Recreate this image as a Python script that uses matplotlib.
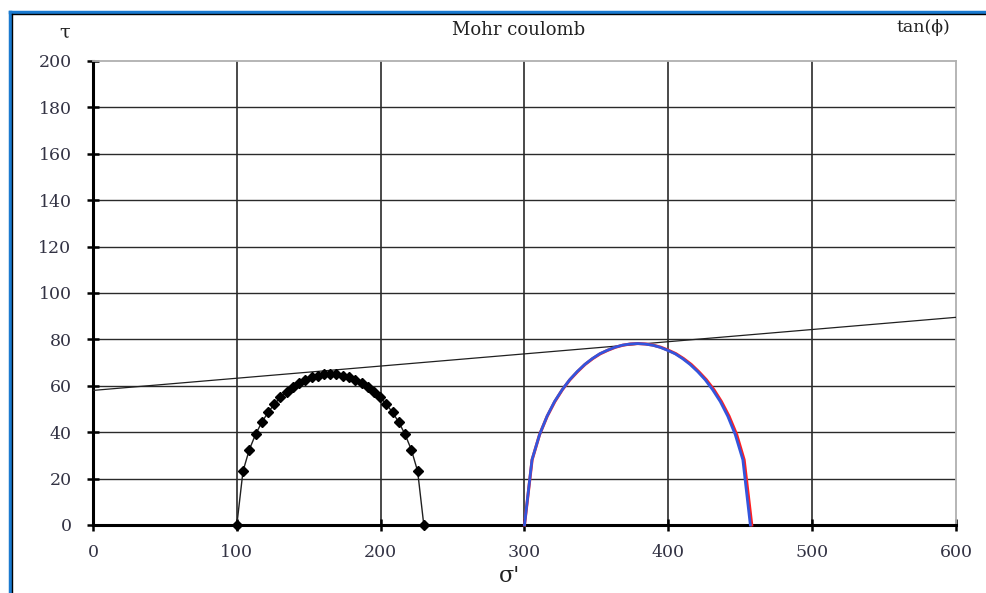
import matplotlib
matplotlib.use("Agg")
from matplotlib import pyplot as plt
from matplotlib.lines import Line2D

plt.rcParams['font.family'] = ['DejaVu Serif']

# Mohr circle 1 (diamond markers)
sig1 = [100, 104.3, 108.7, 113, 117.3, 121.7, 126, 130.3, 134.7, 139, 143.3,
        147.7, 152, 156.3, 160.7, 165, 169.3, 173.7, 178, 182.3, 186.7, 191,
        195.3, 199.7, 204, 208.3, 212.7, 217, 221.3, 225.7, 230]
tau1 = [0, 23.2, 32.5, 39.0, 44.2, 48.5, 52.0, 55.0, 57.5, 59.6, 61.3, 62.7,
        63.7, 64.4, 64.9, 65.0, 64.9, 64.4, 63.7, 62.7, 61.3, 59.6, 57.5, 55.0,
        52.0, 48.5, 44.2, 39.0, 32.5, 23.2, 0]

# Mohr circle 2 (red + blue lines)
tau2 = [0, 28.1, 39.0, 46.9, 53.2, 58.3, 62.6, 66.1, 69.2, 71.7, 73.8, 75.3,
        76.6, 77.5, 78.0, 78.2, 78.0, 77.5, 76.6, 75.3, 73.8, 71.7, 69.2, 66.1,
        62.6, 58.3, 53.2, 46.9, 39.0, 28.1, 0]
sig2_red = [300, 305.3, 310.5, 315.8, 321.1, 326.3, 331.6, 336.9, 342.1, 347.4,
            352.7, 357.9, 363.2, 368.5, 373.7, 379, 384.3, 389.5, 394.8, 400.1,
            405.3, 410.6, 415.9, 421.1, 426.4, 431.7, 436.9, 442.2, 447.5, 452.7, 458]
sig2_blue = [300, 305.2, 310.5, 315.7, 320.9, 326.2, 331.4, 336.6, 341.9, 347.1,
             352.3, 357.6, 362.8, 368, 373.3, 378.5, 383.7, 389, 394.2, 399.4,
             404.7, 409.9, 415.1, 420.4, 425.6, 430.8, 436.1, 441.3, 446.5, 451.8, 457]

# failure envelope
env_sig = [0, 600]
env_tau = [58, 89.5]

xticks = [0, 100, 200, 300, 400, 500, 600]
yticks = [0, 20, 40, 60, 80, 100, 120, 140, 160, 180, 200]

fig = plt.figure(figsize=(9.87, 5.93), dpi=100)
ax = fig.add_axes([0.0942, 0.1147, 0.8744, 0.7825])

ax.set_xlim(0, 600)
ax.set_ylim(0, 200)
ax.set_xticks(xticks)
ax.set_yticks(yticks)

# grid
for x in xticks[1:-1]:
    ax.axvline(x, color='#3a3a3a', lw=1.3, zorder=1)
for y in yticks[1:-1]:
    ax.axhline(y, color='#2a2a2a', lw=1.0, zorder=1)

ax.plot(env_sig, env_tau, color='#202020', lw=0.9, zorder=3)
ax.plot(sig1, tau1, color='#202020', lw=1.0, marker='D', ms=5,
        mfc='black', mec='black', zorder=4, clip_on=False)
ax.plot(sig2_red, tau2, color='#ff2020', lw=2.2, zorder=4, clip_on=False)
ax.plot(sig2_blue, tau2, color='#3355dd', lw=2.0, zorder=5, clip_on=False)

for s in ['left', 'bottom']:
    ax.spines[s].set_color('black')
    ax.spines[s].set_linewidth(2.2)
for s in ['top', 'right']:
    ax.spines[s].set_color('#b0b0b0')
    ax.spines[s].set_linewidth(1.3)

ax.tick_params(direction='inout', length=9, width=1.8, color='black',
               labelsize=12.5, labelcolor='#333344')
ax.tick_params(axis='y', pad=11)
ax.tick_params(axis='x', pad=9)

fig.text(519 / 987, 1 - 30 / 593, 'Mohr coulomb', ha='center', va='center',
         fontsize=13, color='#222222')
fig.text(923 / 987, 1 - 27 / 593, 'tan(ϕ)', ha='center', va='center',
         fontsize=12.5, color='#222222')
fig.text(65 / 987, 1 - 33 / 593, 'τ', ha='center', va='center',
         fontsize=14, color='#222222')
fig.text(510 / 987, 1 - 576 / 593, "σ'", ha='center', va='center',
         fontsize=16, color='#222222')

# outer frame (blue with black inner line), top and left sides
fig.add_artist(Line2D([9.5 / 987, 9.5 / 987], [0, 1 - 11.5 / 593],
                      transform=fig.transFigure, color='#1a7ad0', lw=2.5))
fig.add_artist(Line2D([9.5 / 987, 1], [1 - 11.5 / 593, 1 - 11.5 / 593],
                      transform=fig.transFigure, color='#1a7ad0', lw=2.5))
fig.add_artist(Line2D([12.5 / 987, 12.5 / 987], [0, 1 - 14 / 593],
                      transform=fig.transFigure, color='black', lw=1.0))
fig.add_artist(Line2D([12.5 / 987, 1], [1 - 14 / 593, 1 - 14 / 593],
                      transform=fig.transFigure, color='black', lw=1.0))

fig.savefig('out.png', dpi=100)
